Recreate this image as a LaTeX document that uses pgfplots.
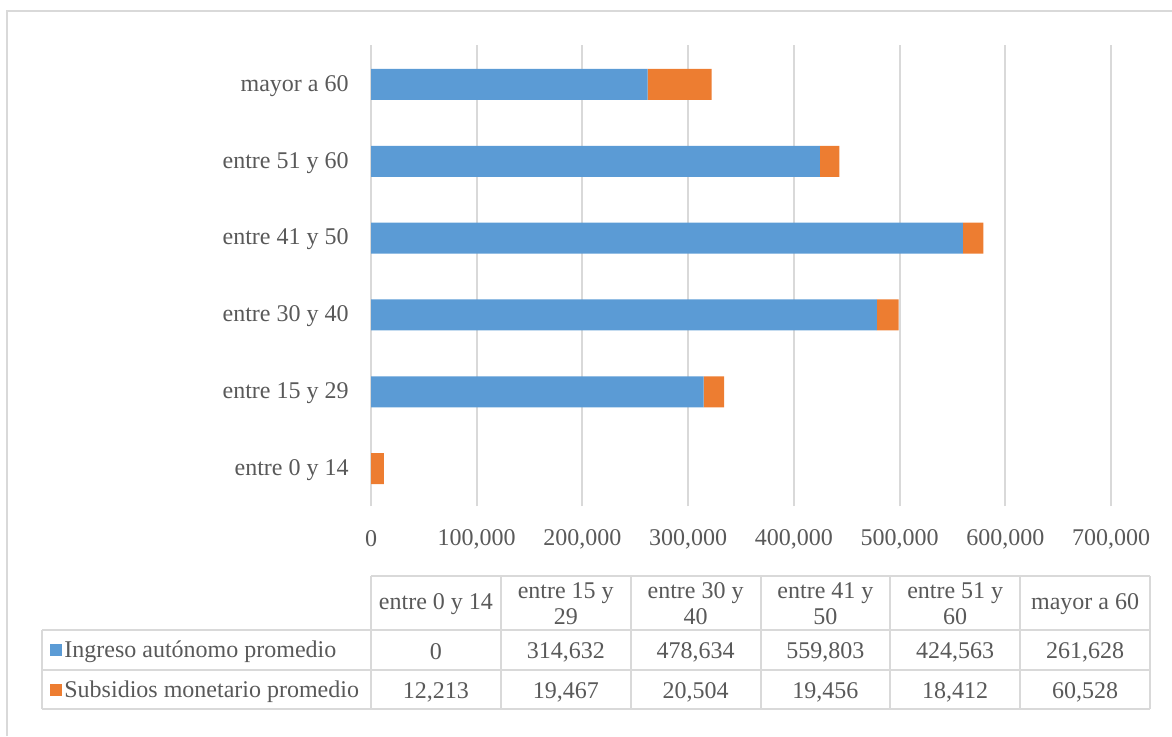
\documentclass[border=0pt]{standalone}
\usepackage{fontspec}
\setmainfont{Liberation Serif}
\usepackage{pgfplots}
\pgfplotsset{compat=1.18}
\definecolor{cblue}{HTML}{5B9BD5}
\definecolor{corange}{HTML}{ED7D31}
\definecolor{cgrid}{HTML}{D9D9D9}
\definecolor{ctext}{HTML}{595959}

\begin{document}
\begin{tikzpicture}[font=\fontsize{12}{13}\selectfont]
\begin{scope}[x=0.5pt,y=-0.5pt]
\path[use as bounding box] (0,0) rectangle (1172,736);
\draw[cgrid, line width=1pt] (7,736) -- (7,11) -- (1172,11);
\end{scope}
\begin{axis}[
  at={(185.5pt,-253pt)}, anchor=south west,
  scale only axis, width=370pt, height=230.5pt,
  xmin=0, xmax=700000, ymin=-0.5, ymax=5.5,
  xbar stacked, bar width=15.5pt,
  xtick={0,100000,200000,300000,400000,500000,600000,700000},
  ytick={0,1,2,3,4,5},
  yticklabels={entre 0 y 14,entre 15 y 29,entre 30 y 40,entre 41 y 50,entre 51 y 60,mayor a 60},
  scaled x ticks=false,
  xticklabel style={/pgf/number format/fixed,/pgf/number format/1000 sep={,},/pgf/number format/assume math mode=true, anchor=center, yshift=-16.5pt},
  yticklabel style={anchor=east, inner sep=0pt, xshift=-11pt, yshift=-1.2pt},
  tick label style={color=ctext, font=\fontsize{12}{13}\selectfont},
  xmajorgrids, ymajorgrids=false,
  grid style={draw=cgrid, line width=1pt},
  axis line style={draw=none},
  major tick length=0pt,
]
\addplot[fill=cblue, draw=none, bar shift=-0.5pt] coordinates {(0,0) (314632,1) (478634,2) (559803,3) (424563,4) (261628,5)};
\addplot[fill=corange, draw=none, bar shift=-0.5pt] coordinates {(12213,0) (19467,1) (20504,2) (19456,3) (18412,4) (60528,5)};
\end{axis}
\begin{scope}[x=0.5pt,y=-0.5pt, every node/.style={text=ctext, font=\fontsize{12}{13}\selectfont}]
% table grid
\draw[cgrid, line width=1pt] (371,576) -- (1150,576);
\draw[cgrid, line width=1pt] (42,630) -- (1150,630);
\draw[cgrid, line width=1pt] (42,670) -- (1150,670);
\draw[cgrid, line width=1pt] (42,709) -- (1150,709);
\draw[cgrid, line width=1pt] (42,630) -- (42,709);
\foreach \i in {0,...,6} {
  \draw[cgrid, line width=1pt] ({371+\i*129.83},576) -- ({371+\i*129.83},709);
}
\foreach \lab [count=\i from 0] in {{entre 0 y 14},{entre 15 y\\29},{entre 30 y\\40},{entre 41 y\\50},{entre 51 y\\60},{mayor a 60}} {
  \node[align=center, inner sep=0pt] at ({371+(\i+0.5)*129.83},604) {\lab};
}
\foreach \v [count=\i from 0] in {0,{314,632},{478,634},{559,803},{424,563},{261,628}} {
  \node[inner sep=0pt] at ({371+(\i+0.5)*129.83},652) {\v};
}
\foreach \v [count=\i from 0] in {{12,213},{19,467},{20,504},{19,456},{18,412},{60,528}} {
  \node[inner sep=0pt] at ({371+(\i+0.5)*129.83},692) {\v};
}
\fill[cblue] (50,644) rectangle (62,656);
\fill[corange] (50,684) rectangle (62,696);
\node[anchor=west, inner sep=0pt] at (64,652) {Ingreso autónomo promedio};
\node[anchor=west, inner sep=0pt] at (64,692) {Subsidios monetario promedio};
\end{scope}
\end{tikzpicture}
\end{document}
